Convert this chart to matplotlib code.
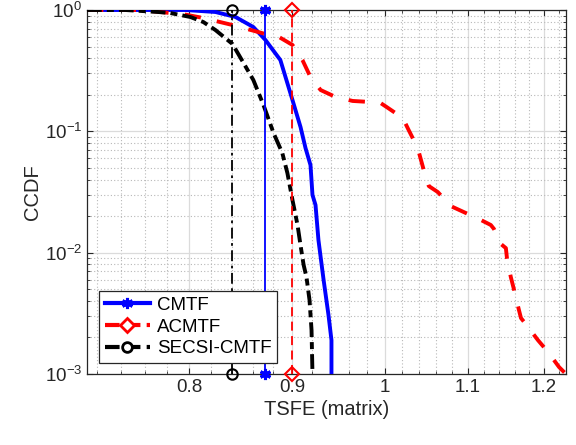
import numpy as np
import matplotlib
matplotlib.use("Agg")
import matplotlib.pyplot as plt
from matplotlib.ticker import FixedLocator, NullFormatter, FixedFormatter
from matplotlib.lines import Line2D

plt.rcParams['font.family'] = ['Liberation Sans', 'DejaVu Sans']
plt.rcParams['mathtext.fontset'] = 'custom'
plt.rcParams['mathtext.rm'] = 'Liberation Sans'
plt.rcParams['mathtext.it'] = 'Liberation Sans:italic'
plt.rcParams['mathtext.bf'] = 'Liberation Sans:bold'

# ---------------- data ----------------
cmtf_x = [0.7116, 0.7962, 0.8241, 0.8432, 0.8606, 0.8726, 0.8876, 0.9000, 0.9083,
          0.9135, 0.9187, 0.9208, 0.9240, 0.9271, 0.9326, 0.9378, 0.9410, 0.9410]
cmtf_y = [1.0, 1.0, 0.963, 0.876, 0.724, 0.566, 0.387, 0.181, 0.1085,
          0.0728, 0.0527, 0.0299, 0.0247, 0.0127, 0.00594, 0.00306, 0.0019, 0.001]

acmtf_x = [0.7116, 0.7562, 0.7780, 0.7935, 0.8128, 0.8403, 0.8726, 0.8846, 0.9000,
           0.9103, 0.9187, 0.9294, 0.9454, 0.9640, 0.9841, 0.9954, 1.0023, 1.0209,
           1.0278, 1.0385, 1.0457, 1.0517, 1.0626, 1.0785, 1.0947, 1.1162, 1.1290,
           1.1330, 1.1420, 1.1486, 1.1500, 1.1551, 1.1605, 1.1659, 1.1686, 1.1750,
           1.1915, 1.2052, 1.2206, 1.2303]
acmtf_y = [1.0, 1.0, 0.954, 0.927, 0.859, 0.752, 0.634, 0.610, 0.515,
           0.387, 0.280, 0.219, 0.192, 0.178, 0.1744, 0.171, 0.1585, 0.1288,
           0.1025, 0.0728, 0.0479, 0.0354, 0.0316, 0.0242, 0.0216, 0.0186, 0.0169,
           0.0157, 0.0118, 0.0109, 0.00902, 0.00629, 0.00464, 0.00336, 0.00289, 0.00258,
           0.00190, 0.00152, 0.00114, 0.001]

secsi_x = [0.7116, 0.7435, 0.7718, 0.7825, 0.8008, 0.8128, 0.8241, 0.8403, 0.8510,
           0.8606, 0.8706, 0.8807, 0.8896, 0.8948, 0.9000, 0.9052, 0.9083, 0.9115,
           0.9145, 0.9177, 0.9198, 0.9208]
secsi_y = [1.0, 1.0, 0.963, 0.945, 0.876, 0.796, 0.684, 0.525, 0.366,
           0.265, 0.165, 0.0969, 0.0662, 0.0452, 0.0271, 0.0169, 0.0115, 0.00794,
           0.00629, 0.00406, 0.00230, 0.001]

# mean TSFE markers (vertical lines)
means = {'CMTF': 0.8726, 'ACMTF': 0.9000, 'SECSI-CMTF': 0.8403}

series_names = ['CMTF', 'ACMTF', 'SECSI-CMTF']
xticks = [0.8, 0.9, 1.0, 1.1, 1.2]
xticklabels = ['0.8', '0.9', '1', '1.1', '1.2']
yticks = [1e-3, 1e-2, 1e-1, 1e0]
yticklabels = [r'$\mathregular{10^{-3}}$', r'$\mathregular{10^{-2}}$',
               r'$\mathregular{10^{-1}}$', r'$\mathregular{10^{0}}$']

# ---------------- figure ----------------
fig = plt.figure(figsize=(5.76, 4.45), dpi=100)
ax = fig.add_axes([87/576, 1-374/445, (566-87)/576, (374-10)/445])

dark = (0.15, 0.15, 0.15)
lw = 2.8

ax.plot(cmtf_x, cmtf_y, color='#0000ff', lw=lw, ls='-', zorder=3)
ax.plot(acmtf_x, acmtf_y, color='#ff0000', lw=lw, ls=(0, (4.2, 4.2)), zorder=3)
ax.plot(secsi_x, secsi_y, color='black', lw=lw, ls=(0, (3.8, 1.3, 1.8, 1.3)), zorder=3)

vstyle = {
    'CMTF': dict(color='#0000ff', ls='-', marker=(6, 2, 0), ms=8, mew=2.2),
    'ACMTF': dict(color='#ff0000', ls=(0, (5, 3)), marker='D', ms=7, mew=1.5, mfc='none'),
    'SECSI-CMTF': dict(color='black', ls=(0, (6, 2.5, 1.5, 2.5)), marker='o', ms=7.5, mew=1.5, mfc='none'),
}
for name in series_names:
    m = means[name]
    ax.plot([m, m], [1e-3, 1.0], lw=1.3, clip_on=False, zorder=4, **vstyle[name])

ax.set_xscale('log')
ax.set_yscale('log')
ax.set_xlim(min(acmtf_x), max(acmtf_x))
ax.set_ylim(1e-3, 1.0)

ax.xaxis.set_major_locator(FixedLocator(xticks))
ax.xaxis.set_major_formatter(FixedFormatter(xticklabels))
minor_x = [v for v in np.round(np.arange(0.72, 1.231, 0.02), 2) if not any(abs(v - t) < 1e-6 for t in xticks)]
ax.xaxis.set_minor_locator(FixedLocator(minor_x))
ax.xaxis.set_minor_formatter(NullFormatter())

ax.yaxis.set_major_locator(FixedLocator(yticks))
ax.yaxis.set_major_formatter(FixedFormatter(yticklabels))
minor_y = [k * 10.0**e for e in (-3, -2, -1) for k in range(2, 10)]
ax.yaxis.set_minor_locator(FixedLocator(minor_y))
ax.yaxis.set_minor_formatter(NullFormatter())

ax.grid(True, which='major', color=(0.86, 0.86, 0.86), lw=0.9, ls='-', zorder=0)
ax.grid(True, which='minor', color=(0.72, 0.72, 0.72), lw=0.8, ls=(0, (1, 2)), zorder=0)
ax.set_axisbelow(True)

ax.tick_params(which='both', direction='in', top=True, right=True, colors=dark,
               labelcolor=dark, labelsize=13.5)
ax.tick_params(which='major', length=4.5, width=0.8)
ax.tick_params(which='minor', length=2.5, width=0.6)
for s in ax.spines.values():
    s.set_color(dark)
    s.set_linewidth(0.9)

ax.set_xlabel('TSFE (matrix)', fontsize=14.5, color=dark, labelpad=3)
ax.set_ylabel('CCDF', fontsize=14.5, color=dark, labelpad=2)

handles = [
    Line2D([], [], color='#0000ff', lw=3, ls='-', marker=(6, 2, 0), ms=8, mew=2.2),
    Line2D([], [], color='#ff0000', lw=3, ls=(0, (3.5, 1.5)), marker='D', ms=7, mew=2, mfc='white'),
    Line2D([], [], color='black', lw=3, ls=(0, (3.5, 1.5)), marker='o', ms=7, mew=2, mfc='white'),
]
leg = ax.legend(handles, series_names, loc='lower left', bbox_to_anchor=(0.025, 0.03),
                borderaxespad=0, fontsize=13.5, frameon=True, fancybox=False,
                edgecolor=dark, framealpha=1, handlelength=2.4, handletextpad=0.4,
                labelspacing=0.25, borderpad=0.3)
leg.get_frame().set_linewidth(0.9)
leg.set_zorder(10)

fig.savefig('out.png', dpi=100)
